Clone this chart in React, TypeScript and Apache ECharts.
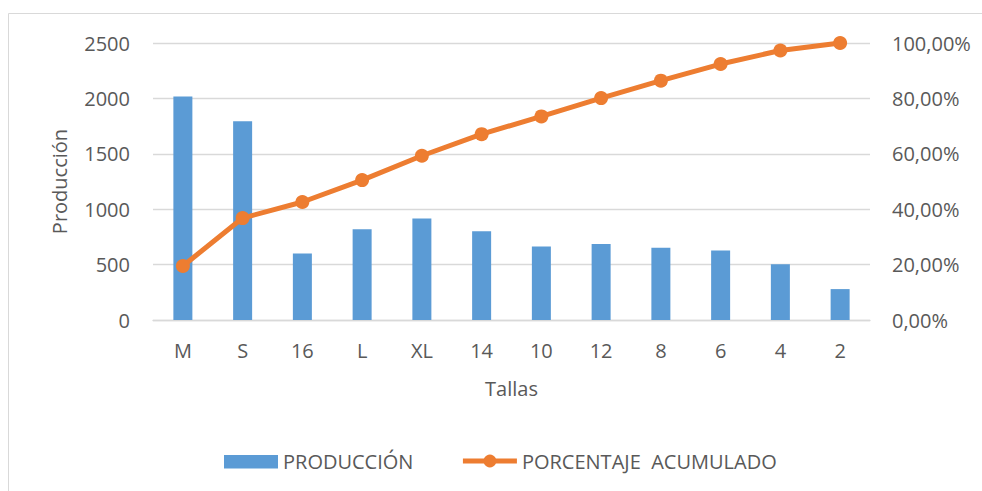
import React, { useEffect, useRef } from "react";
import * as echarts from "echarts";

// Tallas ordenadas por producción (diagrama de Pareto)
const tallas: string[] = ["M", "S", "16", "L", "XL", "14", "10", "12", "8", "6", "4", "2"];
const produccion: number[] = [2018, 1793, 601, 820, 916, 802, 664, 687, 651, 627, 504, 279];
const porcentajeAcumulado: number[] = [19.5, 36.8, 42.6, 50.5, 59.3, 67.1, 73.5, 80.1, 86.4, 92.4, 97.3, 100];

const produccionTicks = { min: 0, max: 2500, interval: 500 };
const porcentajeTicks = { min: 0, max: 100, interval: 20 };

const FONT = "'Open Sans', sans-serif";
const TEXT = "#595959";
const GRID_LINE = "#d9d9d9";
const BAR = "#5B9BD5";
const LINE = "#ED7D31";

// Legend swatch for the bars: a zero-height first sub-path keeps the box 16 high
// while the visible block is 13 high.
const BAR_ICON = "path://M0,0L52,0L52,0ZM0,1.5L52,1.5L52,14.5L0,14.5Z";

export default function App() {
  const ref = useRef<HTMLDivElement>(null);

  useEffect(() => {
    if (!ref.current) return;
    const chart = echarts.init(ref.current, null, { renderer: "svg" });
    chart.setOption({
      animation: false,
      textStyle: { fontFamily: FONT, color: TEXT },
      grid: { left: 153, right: 112, top: 43, bottom: 171, containLabel: false },
      graphic: [
        {
          type: "rect",
          silent: true,
          shape: { x: 8.5, y: 13.5, width: 1200, height: 800 },
          style: { fill: "none", stroke: GRID_LINE, lineWidth: 1 },
          z: -1,
        },
      ],
      legend: {
        left: 219,
        top: 446,
        itemWidth: 54,
        itemHeight: 16,
        itemGap: 47,
        textStyle: { fontFamily: FONT, fontSize: 20, color: TEXT },
        lineStyle: { width: 5 },
        data: [
          { name: "PRODUCCIÓN", icon: BAR_ICON },
          { name: "PORCENTAJE  ACUMULADO" },
        ],
      },
      xAxis: {
        type: "category",
        data: tallas,
        name: "Tallas",
        nameLocation: "middle",
        nameGap: 58,
        nameTextStyle: { fontFamily: FONT, fontSize: 20, color: TEXT },
        axisLine: { lineStyle: { color: GRID_LINE, width: 1.3 } },
        axisTick: { show: false },
        axisLabel: { fontFamily: FONT, fontSize: 20, color: TEXT, margin: 20 },
      },
      yAxis: [
        {
          type: "value",
          ...produccionTicks,
          name: "Producción",
          nameLocation: "middle",
          nameGap: 84,
          nameTextStyle: { fontFamily: FONT, fontSize: 20, color: TEXT },
          axisLine: { show: false },
          axisTick: { show: false },
          axisLabel: {
            fontFamily: FONT,
            fontSize: 20,
            color: TEXT,
            margin: 23,
            formatter: (v: number) => String(v),
          },
          splitLine: { lineStyle: { color: GRID_LINE, width: 1.3 } },
        },
        {
          type: "value",
          ...porcentajeTicks,
          position: "right",
          axisLine: { show: false },
          axisTick: { show: false },
          splitLine: { show: false },
          axisLabel: {
            fontFamily: FONT,
            fontSize: 20,
            color: TEXT,
            margin: 22,
            formatter: (v: number) => v.toFixed(2).replace(".", ",") + "%",
          },
        },
      ],
      series: [
        {
          name: "PRODUCCIÓN",
          type: "bar",
          data: produccion,
          barWidth: 19,
          itemStyle: { color: BAR },
          yAxisIndex: 0,
        },
        {
          name: "PORCENTAJE  ACUMULADO",
          type: "line",
          data: porcentajeAcumulado,
          yAxisIndex: 1,
          symbol: "circle",
          symbolSize: 14,
          lineStyle: { color: LINE, width: 5 },
          itemStyle: { color: LINE },
        },
      ],
    });
    return () => chart.dispose();
  }, []);

  return (
    <div
      ref={ref}
      style={{ position: "absolute", left: 0, top: 0, width: 982, height: 491, background: "#fff" }}
    />
  );
}
